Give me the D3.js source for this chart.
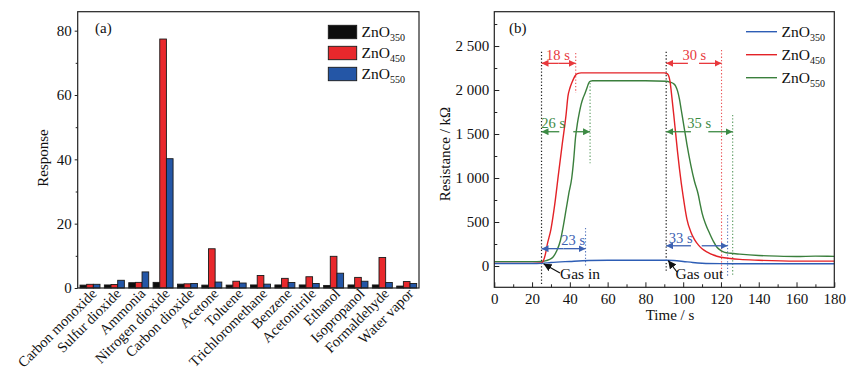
<!DOCTYPE html>
<html><head><meta charset="utf-8">
<script src="https://cdn.jsdelivr.net/npm/d3@7"></script>
<style>
html,body{margin:0;padding:0;background:#fff;}
svg{display:block;font-family:"Liberation Serif","Times New Roman",serif;}
</style></head>
<body>
<svg id="chart" width="859" height="377"></svg>
<script>
// ---------- Panel (a) data ----------
const categories = ["Carbon monoxide","Sulfur dioxide","Ammonia","Nitrogen dioxide","Carbon dioxide","Acetone","Toluene","Trichloromethane","Benzene","Acetonitrile","Ethanol","Isopropanol","Formaldehyde","Water vapor"];
const zno350 = [0.9,0.95,1.65,1.75,1.2,0.9,0.9,0.95,0.95,0.95,0.8,0.95,0.95,0.6];
const zno450 = [1.15,1.1,1.75,77.4,1.3,12.2,2.1,3.9,3.0,3.5,9.85,3.3,9.5,2.0];
const zno550 = [1.15,2.4,5.0,40.2,1.4,1.85,1.55,1.2,1.7,1.4,4.6,2.1,1.7,1.4];
const seriesNames = ["350","450","550"];
const yTicksA = [0,20,40,60,80];

// ---------- Panel (b) data ----------
const t350 = [0,20,25,30,40,50,60,80,91,95,100,105,110,120,140,160,180];
const r350 = [28,28,30,40,52,62,65,65,65,62,52,40,32,27,25,25,25];
const t450 = [0,20,25,26,27,28,30,32,34,36,38,39,40,41,42,43,44,46,60,80,90,91,92,93,94,95,96,97,98,99,100,101,102,104,106,108,110,113,116,120,125,130,140,160,180];
const r450 = [30,30,35,60,130,240,420,700,1050,1390,1720,1930,2020,2080,2130,2168,2186,2195,2195,2195,2195,2190,2175,2100,1920,1720,1510,1300,1110,940,790,650,530,390,300,240,195,155,125,100,85,75,65,55,55];
const t550 = [0,20,25,27,29,31,33,35,36.5,38,39.5,41,42,43,44,45,46,47,48,49,50,51,52,60,80,91,93,95,96,97,98,99,100,101,102,103,104,106,108,109,110,112,114,116,118,120,122,125,130,140,150,160,170,180];
const r550 = [50,50,52,58,72,100,170,290,450,640,830,1000,1200,1460,1620,1740,1840,1910,1960,2020,2080,2100,2105,2105,2105,2100,2090,2070,2045,1990,1900,1770,1640,1510,1380,1260,1150,960,810,700,600,470,370,280,210,175,155,145,135,120,112,108,112,110];
const xTicksB = [0,20,40,60,80,100,120,140,160,180];
const yTicksB = [0,500,1000,1500,2000,2500];
const gasIn = 25, gasOut = 91;
// response / recovery time annotations
const annLabels = ["18 s","30 s","26 s","35 s","23 s","33 s"];
const annSeries = [1,1,2,2,0,0];
const annStart  = [25,91,25,91,25,91];
const annEnd    = [43.1,120.3,50.7,126.2,48.3,123.5];
const annLevel  = [2303,2303,1526,1526,197,230];
const annTextT  = [33.7,105.9,31.2,108.5,41.8,98.7];
const annTextLv = [2398,2398,1622,1622,295,315];
const annGap    = [null,[102.5,108.4],[34.4,41.8],[104.1,113.3],null,[104.1,109.8]];
const dotTop    = [2420,2455,2080,1716,432,580];
const dotBottom = [1966,-160,1167,-122,-8,-122];

const barColors = ["#0d0d0d","#e8282c","#2456a6"];
const lineColors = ["#2d5db5","#e32227","#3a7f3c"];
const annColors = ["#3d62b2","#e8393d","#3d8a44"];

const svg = d3.select("#chart");
const FONT = "'Liberation Serif', 'Times New Roman', serif";

// ================= Panel (a) =================
const A = {l:77.7, r:419, t:11.7, b:288};
const xA = d3.scaleBand().domain(categories).range([A.l, A.r]).paddingInner(0.18).paddingOuter(0.095);
const xSub = d3.scaleBand().domain(seriesNames).range([0, xA.bandwidth()]);
const yA = d3.scaleLinear().domain([0, 85.9]).range([A.b, A.t]);
const gA = svg.append("g");
const valsA = [zno350, zno450, zno550];
categories.forEach((c, i) => {
  seriesNames.forEach((s, k) => {
    const v = valsA[k][i];
    gA.append("rect")
      .attr("x", xA(c) + xSub(s))
      .attr("y", yA(v))
      .attr("width", xSub.bandwidth())
      .attr("height", yA(0) - yA(v))
      .attr("fill", barColors[k])
      .attr("stroke", "#1a1a1a").attr("stroke-width", 0.9);
  });
});
gA.append("rect").attr("x", A.l).attr("y", A.t).attr("width", A.r - A.l).attr("height", A.b - A.t)
  .attr("fill","none").attr("stroke","#222").attr("stroke-width",1.2);
const yAxA = gA.append("g").attr("transform", `translate(${A.l},0)`)
  .call(d3.axisLeft(yA).tickValues(yTicksA).tickSize(3).tickPadding(3));
yAxA.select(".domain").remove();
yAxA.selectAll("text").attr("font-family", FONT).attr("font-size", 15).attr("fill","#111");
yAxA.selectAll("line").attr("stroke","#222");
gA.append("g").attr("transform", `translate(${A.l},0)`)
  .call(d3.axisLeft(yA).tickValues([10,30,50,70]).tickSize(2).tickFormat(""))
  .call(g => g.select(".domain").remove()).selectAll("line").attr("stroke","#222");
categories.forEach(c => {
  gA.append("text")
    .attr("transform", `translate(${xA(c) + xA.bandwidth()/2 + 5},${A.b + 4}) rotate(-45)`)
    .attr("text-anchor","end").attr("dy","0.25em")
    .attr("font-family", FONT).attr("font-size", 14.5).attr("fill","#111")
    .text(c);
});
gA.append("text").attr("transform", `translate(48,158) rotate(-90)`)
  .attr("text-anchor","middle").attr("font-family",FONT).attr("font-size",15).attr("fill","#111").text("Response");
gA.append("text").attr("x", 95).attr("y", 33).attr("font-family",FONT).attr("font-size",15).attr("fill","#111").text("(a)");
seriesNames.forEach((s, k) => {
  const y0 = 25.3 + k * 21;
  gA.append("rect").attr("x", 328.3).attr("y", y0).attr("width", 28.4).attr("height", 13.4)
    .attr("fill", barColors[k]).attr("stroke","#1a1a1a").attr("stroke-width",0.9);
  const tx = gA.append("text").attr("x", 361.5).attr("y", y0 + 12).attr("font-family",FONT).attr("font-size",15.5).attr("fill","#111");
  tx.append("tspan").text("ZnO");
  tx.append("tspan").attr("font-size",10).attr("dy",4).text(s);
});

// ================= Panel (b) =================
const B = {l:494.3, r:834.3, t:11.7, b:287.3};
const xB = d3.scaleLinear().domain([0,180]).range([B.l, B.r]);
const yB = d3.scaleLinear().domain([-242, 2890]).range([B.b, B.t]);
const gB = svg.append("g");
const defs = svg.append("defs");
function marker(id, color, size) {
  defs.append("marker").attr("id", id).attr("viewBox","0 0 10 10").attr("refX",10).attr("refY",5)
    .attr("markerWidth", size).attr("markerHeight", size).attr("markerUnits","userSpaceOnUse")
    .attr("orient","auto")
    .append("path").attr("d","M0,0 L10,5 L0,10 Z").attr("fill", color);
}
annColors.forEach((c,i) => marker("arr"+i, c, 7));
marker("arrK", "#111", 8);

[[gasIn, 2435, -216],[gasOut, 2435, -65]].forEach(d => {
  gB.append("line").attr("x1", xB(d[0])).attr("x2", xB(d[0])).attr("y1", yB(d[1])).attr("y2", yB(d[2]))
    .attr("stroke","#222").attr("stroke-width",1.2).attr("stroke-dasharray","1.3,2");
});
annLabels.forEach((lab, i) => {
  const col = annColors[annSeries[i]];
  const te = annEnd[i];
  gB.append("line").attr("x1", xB(te)).attr("x2", xB(te)).attr("y1", yB(dotTop[i])).attr("y2", yB(dotBottom[i]))
    .attr("stroke", col).attr("stroke-width",1.1).attr("stroke-dasharray","1.3,2").attr("opacity",0.85);
});

const lineGen = d3.line().x(d => xB(d[0])).y(d => yB(d[1])).curve(d3.curveMonotoneX);
const seriesB = [[t350,r350],[t450,r450],[t550,r550]];
[2,1,0].forEach(k => {
  const pts = seriesB[k][0].map((t,i) => [t, seriesB[k][1][i]]);
  gB.append("path").attr("d", lineGen(pts)).attr("fill","none").attr("stroke", lineColors[k]).attr("stroke-width",1.4);
});

annLabels.forEach((lab, i) => {
  const col = annColors[annSeries[i]];
  const m = `url(#arr${annSeries[i]})`;
  const y = yB(annLevel[i]);
  const a0 = xB(annStart[i]), a1 = xB(annEnd[i]);
  let g0, g1;
  if (annGap[i]) { g0 = xB(annGap[i][0]); g1 = xB(annGap[i][1]); }
  else { g0 = g1 = (a0 + a1) / 2; }
  gB.append("line").attr("x1", g0).attr("x2", a0).attr("y1", y).attr("y2", y).attr("stroke", col).attr("stroke-width",1.3).attr("marker-end", m);
  gB.append("line").attr("x1", g1).attr("x2", a1).attr("y1", y).attr("y2", y).attr("stroke", col).attr("stroke-width",1.3).attr("marker-end", m);
  gB.append("text").attr("x", xB(annTextT[i])).attr("y", yB(annTextLv[i])).attr("dy","0.35em")
    .attr("text-anchor","middle").attr("font-family",FONT).attr("font-size",14.5).attr("fill", col).text(lab);
});

gB.append("line").attr("x1", 560).attr("y1", 273).attr("x2", xB(gasIn) + 2).attr("y2", yB(25))
  .attr("stroke","#111").attr("stroke-width",1.2).attr("marker-end","url(#arrK)");
gB.append("text").attr("x", 560).attr("y", 279).attr("font-family",FONT).attr("font-size",15.5).attr("fill","#111").text("Gas in");
gB.append("line").attr("x1", 677).attr("y1", 272).attr("x2", xB(gasOut) + 2).attr("y2", yB(62))
  .attr("stroke","#111").attr("stroke-width",1.2).attr("marker-end","url(#arrK)");
gB.append("text").attr("x", 675.5).attr("y", 279).attr("font-family",FONT).attr("font-size",15.5).attr("fill","#111").text("Gas out");

gB.append("rect").attr("x", B.l).attr("y", B.t).attr("width", B.r - B.l).attr("height", B.b - B.t)
  .attr("fill","none").attr("stroke","#222").attr("stroke-width",1.2);
const fmt = d => d >= 1000 ? d3.format(",")(d).replace(",", " ") : String(d);
const xAxB = gB.append("g").attr("transform", `translate(0,${B.b})`)
  .call(d3.axisBottom(xB).tickValues(xTicksB).tickSize(-5).tickPadding(6));
xAxB.select(".domain").remove();
xAxB.selectAll("text").attr("font-family",FONT).attr("font-size",15).attr("fill","#111");
xAxB.selectAll("line").attr("stroke","#222");
gB.append("g").attr("transform", `translate(0,${B.b})`)
  .call(d3.axisBottom(xB).tickValues(d3.range(10,180,20)).tickSize(-3).tickFormat(""))
  .call(g => g.select(".domain").remove()).selectAll("line").attr("stroke","#222");
const yAxB = gB.append("g").attr("transform", `translate(${B.l},0)`)
  .call(d3.axisLeft(yB).tickValues(yTicksB).tickSize(-5).tickPadding(5).tickFormat(fmt));
yAxB.select(".domain").remove();
yAxB.selectAll("text").attr("font-family",FONT).attr("font-size",15).attr("fill","#111");
yAxB.selectAll("line").attr("stroke","#222");
gB.append("g").attr("transform", `translate(${B.l},0)`)
  .call(d3.axisLeft(yB).tickValues([250,750,1250,1750,2250,2750]).tickSize(-3).tickFormat(""))
  .call(g => g.select(".domain").remove()).selectAll("line").attr("stroke","#222");

gB.append("text").attr("transform", `translate(450,154) rotate(-90)`)
  .attr("text-anchor","middle").attr("font-family",FONT).attr("font-size",15).attr("fill","#111").text("Resistance / kΩ");
gB.append("text").attr("x", 670).attr("y", 320).attr("text-anchor","middle")
  .attr("font-family",FONT).attr("font-size",15).attr("fill","#111").text("Time / s");
gB.append("text").attr("x", 509).attr("y", 33).attr("font-family",FONT).attr("font-size",15).attr("fill","#111").text("(b)");

seriesNames.forEach((s, k) => {
  const y0 = 31.7 + k * 23;
  gB.append("line").attr("x1", 746).attr("x2", 777).attr("y1", y0).attr("y2", y0)
    .attr("stroke", lineColors[k]).attr("stroke-width",1.4);
  const tx = gB.append("text").attr("x", 781.5).attr("y", y0 + 5).attr("font-family",FONT).attr("font-size",15.5).attr("fill","#111");
  tx.append("tspan").text("ZnO");
  tx.append("tspan").attr("font-size",10).attr("dy",4).text(s);
});
</script>
</body></html>
